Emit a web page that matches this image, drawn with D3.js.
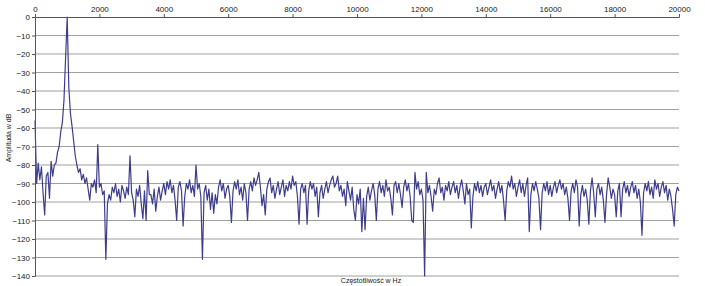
<!DOCTYPE html>
<meta charset="utf-8">
<head>
    <script src="https://d3js.org/d3.v7.min.js"></script>
    <style>
    body { margin: 0; background: #fff; }
    .axis text { font: 8px "Liberation Sans", Arial, sans-serif; fill: #222; }
    .axis path, .axis line { stroke: #555; }
    .grid line { stroke: #a0a0a0; stroke-width: 1.2px; }
    .line { fill: none; stroke: #3d3d8f; stroke-width: 1.2px; stroke-linejoin: round; }
    .label { font: 7px "Liberation Sans", Arial, sans-serif; fill: #222; }
    </style>
</head>
<body>
<script>

// spectrum sampled every 50 Hz, 0..20000 Hz (dB)
var step = 50;
var amplitude = [
  -56, -90, -79, -88, -81, -95, -107, -86, -84, -98, -78, -86, -80, -79, -73, -70, -62, -57, -45, -22,
  0, -38, -52, -59, -67, -75, -80, -84, -82, -88, -85, -90, -87, -93, -99, -90, -92, -88, -95, -69,
  -92, -90, -96, -94, -131, -101, -96, -99, -92, -95, -90, -97, -93, -100, -91, -94, -98, -92, -96, -75,
  -95, -99, -108, -93, -97, -91, -101, -109, -94, -110, -83, -96, -96, -101, -93, -105, -97, -92, -99, -94,
  -90, -96, -89, -93, -88, -95, -91, -99, -110, -92, -89, -94, -113, -97, -90, -93, -88, -95, -91, -97,
  -80, -93, -90, -97, -131, -95, -91, -99, -93, -104, -95, -106, -96, -101, -92, -88, -94, -90, -98, -93,
  -91, -97, -111, -94, -89, -93, -88, -96, -92, -99, -90, -95, -110, -93, -89, -94, -87, -91, -88, -84,
  -92, -102, -96, -107, -93, -89, -87, -95, -91, -98, -93, -89, -96, -92, -88, -97, -91, -94, -89, -93,
  -86, -91, -89, -97, -112, -93, -90, -95, -91, -112, -94, -89, -93, -90, -97, -92, -108, -95, -91, -98,
  -93, -89, -95, -91, -88, -86, -92, -90, -86, -94, -91, -97, -93, -102, -89, -94, -99, -92, -104, -110,
  -96, -101, -93, -116, -98, -115, -97, -92, -99, -94, -90, -96, -110, -93, -89, -95, -91, -97, -88, -94,
  -92, -98, -107, -91, -89, -95, -90, -96, -103, -92, -88, -94, -90, -97, -110, -111, -84, -93, -89, -96,
  -93, -99, -140, -84, -95, -91, -97, -105, -93, -96, -90, -87, -95, -92, -99, -91, -94, -89, -96, -92,
  -89, -95, -91, -98, -92, -88, -94, -101, -90, -96, -93, -114, -97, -90, -94, -89, -95, -91, -97, -92,
  -90, -96, -92, -88, -94, -91, -98, -93, -89, -95, -91, -99, -110, -94, -89, -92, -86, -93, -90, -97,
  -92, -88, -95, -90, -97, -91, -87, -116, -96, -90, -94, -89, -93, -98, -115, -95, -90, -94, -89, -96,
  -91, -97, -92, -89, -95, -91, -88, -93, -90, -96, -92, -98, -110, -94, -90, -95, -88, -92, -113, -96,
  -91, -97, -93, -99, -112, -94, -87, -95, -108, -93, -90, -96, -92, -99, -111, -96, -87, -92, -98, -93,
  -96, -108, -94, -90, -108, -93, -89, -95, -91, -97, -92, -89, -95, -91, -98, -93, -100, -118, -95, -90,
  -94, -89, -96, -92, -98, -88, -93, -90, -97, -92, -89, -95, -91, -99, -93, -97, -104, -113, -96, -92,
  -94
];
var xTicks = [0, 2000, 4000, 6000, 8000, 10000, 12000, 14000, 16000, 18000, 20000];
var yTicks = [0, -10, -20, -30, -40, -50, -60, -70, -80, -90, -100, -110, -120, -130, -140];

var data = amplitude.map(function(v, i) { return {f: i * step, a: v}; });

var width = 705, height = 286;

var x = d3.scaleLinear().domain([0, 20000]).range([35, 679]);
var y = d3.scaleLinear().domain([0, -140]).range([17, 276]);

var svg = d3.select("body").append("svg")
    .attr("width", width)
    .attr("height", height);

// horizontal grid
svg.append("g")
    .attr("class", "grid")
  .selectAll("line")
    .data(yTicks.slice(1))
  .enter().append("line")
    .attr("x1", x(0))
    .attr("x2", x(20000))
    .attr("y1", function(d) { return y(d); })
    .attr("y2", function(d) { return y(d); });

// spectrum
var valueline = d3.line()
    .x(function(d) { return x(d.f); })
    .y(function(d) { return y(d.a); });

svg.append("path")
    .datum(data)
    .attr("class", "line")
    .attr("d", valueline);

// top x axis
svg.append("g")
    .attr("class", "axis")
    .attr("transform", "translate(0," + y(0) + ")")
    .call(d3.axisTop(x).tickValues(xTicks).tickSize(3).tickPadding(2).tickFormat(d3.format("d")));

// left y axis
svg.append("g")
    .attr("class", "axis")
    .attr("transform", "translate(" + x(0) + ",0)")
    .call(d3.axisLeft(y).tickValues(yTicks).tickSize(3).tickPadding(2).tickFormat(d3.format("d")));

// axis labels
svg.append("text")
    .attr("class", "label")
    .attr("transform", "translate(11," + 138 + ") rotate(-90)")
    .style("text-anchor", "middle")
    .text("Amplituda w dB");

svg.append("text")
    .attr("class", "label")
    .attr("x", 371)
    .attr("y", 283)
    .style("text-anchor", "middle")
    .text("Częstotliwość w Hz");

</script>
</body>
